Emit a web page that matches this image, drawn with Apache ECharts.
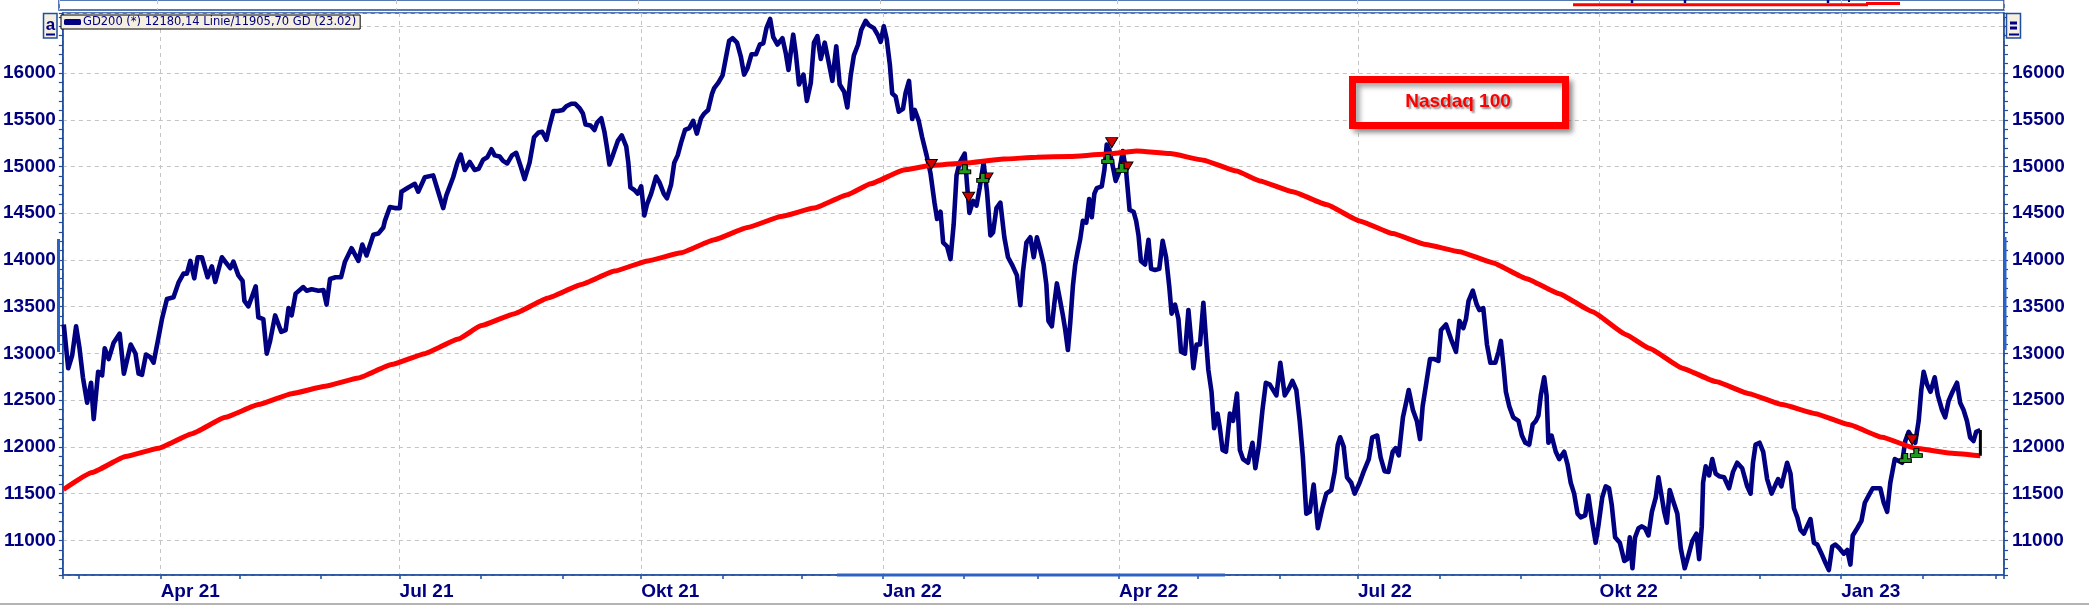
<!DOCTYPE html>
<html><head><meta charset="utf-8">
<script src="https://cdn.jsdelivr.net/npm/echarts@6/dist/echarts.min.js"></script>
<style>html,body{margin:0;padding:0;background:#fff;}#c{width:2089px;height:611px;}</style>
</head><body><div id="c"></div>
<script>
// Time positions are given in days since 1 April 2021.
const priceDays = [
-36.9,-35.2,-33.7,-32.2,-30.9,-29.6,-28.0,-26.5,-25.5,-23.8,-22.3,-21.3,-19.8,-17.9,-15.6,-14.0,-11.4,-9.6,-8.4,-7.1,
-5.6,-3.9,-2.7,-0.8,0.5,2.4,4.9,6.8,8.7,10.0,11.3,12.8,14.1,15.7,17.9,19.5,20.8,23.3,26.5,27.7,
29.6,31.2,31.9,33.4,34.7,36.2,37.2,39.1,40.4,41.7,43.6,45.9,47.6,48.7,49.9,51.4,54.3,55.6,57.5,60.1,
62.0,63.2,64.5,66.6,68.7,70.2,72.7,75.3,76.8,78.4,81.0,82.9,84.8,85.4,87.3,89.2,91.1,91.7,94.3,96.8,
98.1,100.6,103.8,105.7,107.6,108.8,
111.4,113.0,114.3,115.8,117.7,119.6,121.1,122.8,124.4,126.0,127.2,129.1,130.4,132.0,133.8,135.4,137.1,138.6,140.5,142.2,
143.9,145.3,146.9,148.1,149.6,151.3,153.2,154.5,156.4,157.9,159.5,160.8,161.8,163.7,165.2,166.2,167.8,169.0,170.0,170.9,
172.2,174.1,175.6,177.3,178.1,178.9,180.4,181.7,183.0,184.2,185.2,186.8,188.7,190.0,191.6,192.8,194.4,195.6,196.9,198.2,
199.7,201.3,202.8,204.2,205.8,207.0,208.5,210.0,210.8,212.4,214.0,215.3,216.5,217.8,219.5,221.0,222.2,223.5,225.0,226.7,
228.2,229.5,230.7,232.1,233.3,234.9,236.8,238.1,239.1,240.0,240.9,241.9,243.1,244.8,246.1,247.6,248.8,250.1,251.4,252.9,
254.3,255.8,257.3,258.6,260.3,261.5,
262.8,264.0,265.6,266.8,268.5,269.7,271.6,273.2,274.2,275.4,276.5,277.7,278.6,279.9,281.1,282.7,283.7,285.0,286.2,287.2,
288.7,290.0,291.7,293.2,294.7,295.7,297.0,298.0,299.5,300.8,302.0,303.1,304.3,306.2,307.1,308.0,309.4,310.7,311.9,313.4,
314.7,316.0,317.0,318.3,319.8,321.3,322.7,324.2,326.1,327.4,328.4,329.7,331.2,332.5,333.7,335.0,336.3,337.3,338.1,339.4,
340.3,341.3,342.3,343.6,344.5,345.5,346.4,347.4,348.3,349.2,350.2,351.2,352.5,353.6,354.6,355.6,356.5,358.4,359.4,360.3,
361.3,362.6,363.7,365.1,366.4,367.7,369.0,370.5,371.5,372.4,373.3,374.9,376.2,377.2,378.7,380.3,381.6,382.9,384.1,385.0,
386.3,387.6,388.6,390.1,391.4,392.4,393.3,394.5,395.8,397.1,398.1,399.0,400.2,401.2,402.5,403.4,404.4,405.7,
407.2,408.4,409.9,411.0,412.2,414.1,415.8,416.9,418.2,419.6,420.9,422.4,424.9,426.4,428.1,429.7,431.0,432.5,433.8,435.0,
436.3,437.6,439.1,440.7,442.4,443.9,445.8,447.1,448.3,449.2,450.5,451.8,453.4,454.7,456.6,458.1,460.1,461.4,463.3,464.6,
466.1,467.6,469.2,470.3,471.5,473.1,474.3,475.3,476.9,478.4,479.6,480.6,481.9,483.4,485.1,486.6,487.6,489.5,491.4,493.3,
494.6,496.1,497.1,498.1,499.7,501.2,502.2,503.7,505.1,506.4,508.3,509.5,510.4,511.4,512.3,513.6,515.1,517.1,518.4,519.7,
521.2,522.5,523.7,524.7,525.6,526.9,527.8,528.5,529.7,530.4,531.3,532.6,534.5,535.8,537.0,538.3,539.6,540.8,542.5,543.7,
545.0,546.5,547.5,549.0,550.3,551.6,552.6,553.9,
555.7,557.4,558.6,559.5,560.5,561.5,562.8,564.1,565.3,566.6,567.9,569.4,570.4,571.7,572.6,573.6,574.7,576.0,577.6,578.9,
580.4,581.8,583.3,584.9,585.9,586.9,587.4,588.4,589.7,590.9,592.2,593.5,595.4,597.3,598.8,600.4,602.3,604.2,605.5,606.4,
607.4,608.9,610.3,611.8,613.5,615.0,616.0,617.2,618.2,619.4,620.7,622.0,623.3,624.5,625.8,627.0,628.3,629.6,630.9,632.5,
634.0,635.3,636.6,637.8,639.3,641.0,642.3,643.5,644.4,646.1,647.7,649.0,650.5,652.0,654.9,656.2,657.5,658.7,660.4,661.9,
663.2,664.4,665.7,667.0,668.2,669.5,670.5,671.4,672.7,674.0,675.6,676.8,678.4,679.6,680.9,682.4,684.1,685.3,686.6,687.9,
689.1,690.4,691.4,693.0
];
const priceValues = [
13309,12842,12978,13290,13056,12745,12473,12687,12298,12804,12765,13056,12940,13115,13212,12784,13096,13000,12784,12772,
12988,12959,12901,13173,13368,13582,13601,13757,13854,13854,13990,13804,14029,14029,13815,13932,13765,14029,13912,13982,
13835,13776,13562,13504,13601,13718,13387,13368,12998,13134,13407,13232,13251,13485,13407,13640,13710,13671,13687,13671,
13679,13523,13796,13815,13815,13982,14126,13990,14165,14048,14270,14282,14348,14418,14566,14555,14555,14730,14776,14815,
14730,14885,14905,14730,14555,14691,
14885,15041,15126,14963,15049,14963,14975,15072,15099,15185,15119,15107,15060,15033,15119,15146,15002,14866,15041,15313,
15364,15372,15286,15430,15593,15593,15605,15644,15671,15671,15625,15566,15449,15438,15391,15469,15516,15372,15196,15021,
15119,15274,15333,15216,15041,14776,14749,14710,14788,14477,14593,14710,14893,14827,14710,14660,14807,15041,15119,15255,
15391,15411,15488,15352,15516,15566,15605,15780,15839,15897,15975,16169,16344,16372,16325,16169,15983,16052,16200,16200,
16305,16317,16480,16578,16383,16305,16372,16208,16033,16228,16410,16208,15877,15983,15702,15897,16325,16395,16150,16325,
16130,15916,16286,15877,15800,15632,
15975,16189,16305,16461,16558,16512,16480,16403,16333,16500,16364,16091,15780,15749,15586,15617,15788,15916,15508,15605,
15488,15313,15119,14924,14613,14438,14516,14185,14146,14010,14379,14905,15041,15138,14807,14504,14632,14582,14769,15041,
14730,14263,14294,14554,14613,14243,14029,13951,13835,13516,13874,14185,14243,14029,14243,14107,13951,13737,13348,13290,
13523,13749,13601,13407,13251,13037,13329,13718,13951,14088,14224,14418,14399,14652,14457,14710,14769,14788,14963,15235,
15177,15002,14846,14944,15165,14944,14535,14516,14418,14263,13990,13951,14216,13905,13893,13905,14204,14029,13718,13426,
13523,13368,13018,12998,13465,13154,12843,13095,13095,13543,13154,12823,12590,12200,12356,12200,11967,11948,
12356,12278,12570,11967,11870,11831,12045,11772,12006,12395,12687,12667,12551,12901,12551,12628,12706,12609,12278,11889,
11286,11306,11597,11130,11344,11500,11539,11733,12025,12103,12006,11675,11617,11500,11617,11733,11870,12103,12122,11889,
11741,11733,11948,11987,11909,12317,12473,12609,12395,12278,12084,12434,12667,12940,12940,12920,13251,13310,13154,13018,
13348,13270,13368,13562,13671,13523,13465,13485,13095,12901,12901,13018,13134,12862,12590,12434,12317,12278,12122,12045,
12025,12239,12278,12337,12551,12745,12551,12045,12122,12142,11948,11870,11948,11811,11617,11500,11286,11247,11267,11481,
11228,10975,11150,11461,11578,11558,11383,11033,
10975,10780,10800,11033,10702,11033,11130,11150,11130,11053,11306,11461,11675,11461,11306,11189,11539,11422,11286,10916,
10702,10838,10994,11072,10800,11150,11617,11792,11695,11870,11714,11687,11675,11558,11733,11831,11772,11578,11500,11831,
12025,12045,11948,11656,11500,11597,11656,11578,11695,11831,11714,11344,11247,11111,11072,11150,11228,10975,10955,10858,
10761,10683,10936,10955,10916,10858,10897,10741,11053,11130,11208,11403,11481,11558,11558,11403,11306,11617,11870,11850,
11831,12064,12161,12103,12045,12278,12609,12804,12667,12590,12745,12551,12395,12317,12492,12590,12687,12473,12395,12278,
12103,12064,12161,12180.14
];
// 200-day moving average (GD200)
const maDays = [
-37.0,-26.1,-13.4,-0.8,11.9,24.6,37.2,49.9,62.6,75.3,87.9,100.6,113.3,122.1,134.8,147.5,160.2,172.8,185.5,198.2,
210.8,223.5,236.2,248.8,261.5,270.4,283.0,293.2,308.4,321.0,333.7,346.4,359.1,371.7,384.4,397.1,409.7,418.6,431.2,443.9,
456.6,469.2,481.9,494.6,507.3,519.9,532.6,545.3,557.9,566.9,579.5,592.2,604.9,617.5,630.2,642.9,655.6,668.2,680.9,693.0
];
const maValues = [
11545,11726,11897,11986,12142,12317,12453,12570,12648,12737,12881,12998,13154,13298,13426,13593,13737,13881,13990,14076,
14216,14348,14465,14555,14698,14815,14963,15010,15041,15080,15099,15107,15130,15165,15138,15068,14951,14846,14730,14593,
14418,14282,14165,14088,13971,13803,13640,13446,13204,13056,12843,12699,12570,12453,12356,12239,12103,11986,11936,11905.70
];
// crossing signals
const sellDays = [293.5,307.7,314.7,362.2,368.0,667.0];
const sellValues = [15021,14671,14878,15255,14994,12076];
const buyDays = [306.2,313.1,360.7,366.0,664.4,668.6];
const buyValues = [14971,14878,15080,14983,11881,11936];
// last value marker (Linie vs GD)
const lastDay = 693.0;
const lastLine = 12180.14;
const lastGD = 11905.70;
const legendText = 'GD200 (*) 12180,14 Linie/11905,70 GD (23.02)';
const boxTitle = 'Nasdaq 100';
const monthNames = ['Jan','Feb','Mär','Apr','Mai','Jun','Jul','Aug','Sep','Okt','Nov','Dez'];

const BASE = new Date(2021, 3, 1).getTime();
const DAY = 86400000;
const ts = d => BASE + d * DAY;
const zip = (a, b) => a.map((d, i) => [ts(d), b[i]]);

const NAVY = '#000080';
const AXIS = '#1f4e9e';
const GRIDC = '#c4c4c4';
const FONT = '"Liberation Sans", Arial, sans-serif';
const xMin = ts(-37.25), xMax = ts(702.0);
const yMin = 10630, yMax = 16642;

const chart = echarts.init(document.getElementById('c'));
chart.setOption({
  animation: false,
  backgroundColor: '#fff',
  legend: {
    data: [legendText], left: 61, top: 15, padding: [1, 4, 1, 3], itemGap: 2,
    backgroundColor: '#f4efe1', borderColor: '#000', borderWidth: 1,
    icon: 'roundRect', itemWidth: 17, itemHeight: 6,
    textStyle: { color: NAVY, fontSize: 11.5, fontFamily: '"DejaVu Sans", sans-serif', padding: [0, 0, 0, -3] },
    selectedMode: false
  },
  grid: [
    { left: 59, right: 85, top: 13, bottom: 36, show: true, borderColor: AXIS, borderWidth: 1.5, backgroundColor: 'transparent' },
    { left: 59, right: 85, top: -4, height: 14, show: true, borderColor: AXIS, borderWidth: 1.5, backgroundColor: 'transparent' }
  ],
  xAxis: [
    { type: 'time', gridIndex: 0, min: xMin, max: xMax, minInterval: 100 * DAY, maxInterval: 100 * DAY,
      axisLine: { show: true, lineStyle: { color: AXIS, width: 1.5 } },
      axisTick: { show: false },
      axisLabel: { show: true, showMinLabel: true, showMaxLabel: true, hideOverlap: false, align: 'left', margin: 7,
        color: NAVY, fontSize: 19, fontWeight: 'bold', fontFamily: FONT,
        formatter: v => { const d = new Date(v); if (d.getDate() !== 1 || d.getHours() !== 0) return ''; return monthNames[d.getMonth()] + ' ' + String(d.getFullYear()).slice(2); } },
      splitLine: { show: true, lineStyle: { color: GRIDC, type: [4, 4], width: 1 } } },
    { type: 'time', gridIndex: 0, min: xMin, max: xMax, minInterval: 32 * DAY, maxInterval: 32 * DAY, position: 'bottom',
      axisLine: { show: false }, axisLabel: { show: false }, splitLine: { show: false },
      axisTick: { show: true, length: 4, lineStyle: { color: AXIS, width: 1.5 } } },
    { type: 'time', gridIndex: 1, min: xMin, max: xMax, minInterval: 100 * DAY, maxInterval: 100 * DAY,
      axisLine: { show: false }, axisTick: { show: false }, axisLabel: { show: false },
      splitLine: { show: true, lineStyle: { color: GRIDC, type: [4, 4], width: 1 } } }
  ],
  yAxis: [
    { type: 'value', gridIndex: 0, position: 'left', min: yMin, max: yMax, splitNumber: 12,
      axisLine: { show: true, lineStyle: { color: AXIS, width: 1.5 } }, axisTick: { show: false },
      axisLabel: { margin: 7, color: NAVY, fontSize: 19, fontWeight: 'bold', fontFamily: FONT, showMinLabel: true, showMaxLabel: true,
        formatter: v => (v % 500 === 0 && v <= 16000) ? String(v) : '' },
      splitLine: { show: true, lineStyle: { color: GRIDC, type: [4, 4], width: 1 } } },
    { type: 'value', gridIndex: 0, position: 'right', min: yMin, max: yMax, splitNumber: 12,
      axisLine: { show: true, lineStyle: { color: AXIS, width: 1.5 } }, axisTick: { show: false },
      axisLabel: { margin: 8, color: NAVY, fontSize: 19, fontWeight: 'bold', fontFamily: FONT, showMinLabel: true, showMaxLabel: true,
        formatter: v => (v % 500 === 0 && v <= 16000) ? String(v) : '' },
      splitLine: { show: false } },
    { type: 'value', gridIndex: 0, position: 'left', min: yMin, max: yMax, splitNumber: 60,
      axisLine: { show: false }, axisLabel: { show: false }, splitLine: { show: false },
      axisTick: { show: true, length: 4, lineStyle: { color: AXIS, width: 1.2 } } },
    { type: 'value', gridIndex: 0, position: 'right', min: yMin, max: yMax, splitNumber: 60,
      axisLine: { show: false }, axisLabel: { show: false }, splitLine: { show: false },
      axisTick: { show: true, length: 4, lineStyle: { color: AXIS, width: 1.2 } } },
    { type: 'value', gridIndex: 1, min: 0, max: 1, show: false }
  ],
  series: [
    { name: legendText, type: 'line', xAxisIndex: 0, yAxisIndex: 0, data: zip(priceDays, priceValues),
      showSymbol: false, lineStyle: { color: NAVY, width: 4.6, join: 'round' }, itemStyle: { color: NAVY }, z: 3 },
    { name: 'GD200', type: 'line', xAxisIndex: 0, yAxisIndex: 0, data: zip(maDays, maValues),
      showSymbol: false, smooth: 0.12, smoothMonotone: 'x', lineStyle: { color: '#ff0000', width: 5 }, itemStyle: { color: '#ff0000' }, z: 4 },
    { name: 'diff', type: 'line', xAxisIndex: 0, yAxisIndex: 0, data: [[ts(lastDay), lastLine], [ts(lastDay), lastGD]],
      showSymbol: false, lineStyle: { color: '#000', width: 3 }, z: 5 },
    { name: 'sell', type: 'scatter', xAxisIndex: 0, yAxisIndex: 0, data: zip(sellDays, sellValues),
      symbol: 'triangle', symbolRotate: 180, symbolSize: [12, 10],
      itemStyle: { color: '#d40000', borderColor: '#000', borderWidth: 1, opacity: 1 }, z: 6 },
    { name: 'buy', type: 'scatter', xAxisIndex: 0, yAxisIndex: 0, data: zip(buyDays, buyValues),
      symbol: 'path://M3,0 L7,0 L7,4 L10,4 L10,7 L0,7 L0,4 L3,4 Z', symbolSize: [12, 9],
      itemStyle: { color: '#1f9a1f', borderColor: '#000', borderWidth: 1, opacity: 1 }, z: 6 }
  ],
  graphic: [
    { type: 'line', z: 50, silent: true, shape: { x1: 0, y1: 604, x2: 2089, y2: 604 }, style: { stroke: '#b4b4b4', lineWidth: 2 } },
    { type: 'line', z: 50, silent: true, shape: { x1: 837, y1: 575, x2: 1225, y2: 575 }, style: { stroke: '#2c62c4', lineWidth: 3 } },
    { type: 'line', z: 50, silent: true, shape: { x1: 58.5, y1: 239, x2: 58.5, y2: 352 }, style: { stroke: '#2c62c4', lineWidth: 3 } },
    { type: 'line', z: 50, silent: true, shape: { x1: 2005, y1: 237, x2: 2005, y2: 350 }, style: { stroke: '#2c62c4', lineWidth: 3 } },
    { type: 'line', z: 50, silent: true, shape: { x1: 1573, y1: 4.8, x2: 1868, y2: 4.8 }, style: { stroke: '#ff0000', lineWidth: 3 } },
    { type: 'line', z: 50, silent: true, shape: { x1: 1866, y1: 3.6, x2: 1900, y2: 3.6 }, style: { stroke: '#ff0000', lineWidth: 3 } },
    { type: 'line', z: 50, silent: true, shape: { x1: 1632, y1: 0, x2: 1632, y2: 3 }, style: { stroke: NAVY, lineWidth: 2.5 } },
    { type: 'line', z: 50, silent: true, shape: { x1: 1685, y1: 0, x2: 1685, y2: 3 }, style: { stroke: NAVY, lineWidth: 2.5 } },
    { type: 'line', z: 50, silent: true, shape: { x1: 1828, y1: 0, x2: 1828, y2: 3 }, style: { stroke: NAVY, lineWidth: 2.5 } },
    { type: 'line', z: 50, silent: true, shape: { x1: 1849, y1: 0, x2: 1849, y2: 2 }, style: { stroke: NAVY, lineWidth: 2 } },
    // "a" button
    { type: 'rect', z: 50, silent: true, shape: { x: 43.5, y: 13.5, width: 13.5, height: 24.5 }, style: { fill: '#f4efe1', stroke: AXIS, lineWidth: 1.5 } },
    { type: 'text', z: 51, silent: true, x: 50.5, y: 25.5, style: { text: 'a', font: 'bold 17px "Liberation Sans", Arial', fill: NAVY, align: 'center', verticalAlign: 'middle' } },
    { type: 'line', z: 51, silent: true, shape: { x1: 46, y1: 34.5, x2: 55, y2: 34.5 }, style: { stroke: NAVY, lineWidth: 2 } },
    // right menu button
    { type: 'rect', z: 50, silent: true, shape: { x: 2006.5, y: 13.5, width: 14, height: 24.5 }, style: { fill: '#f4efe1', stroke: AXIS, lineWidth: 1.5 } },
    { type: 'rect', z: 51, silent: true, shape: { x: 2010, y: 21.5, width: 7, height: 3 }, style: { fill: NAVY } },
    { type: 'rect', z: 51, silent: true, shape: { x: 2010, y: 26.5, width: 7, height: 3 }, style: { fill: NAVY } },
    { type: 'rect', z: 51, silent: true, shape: { x: 2009, y: 33.5, width: 10, height: 2 }, style: { fill: NAVY } },
    // title box
    { type: 'rect', z: 60, silent: true, shape: { x: 1352.5, y: 79.5, width: 213, height: 46 },
      style: { fill: '#ffffff', stroke: '#ff0000', lineWidth: 7, shadowColor: 'rgba(0,0,0,0.35)', shadowBlur: 5, shadowOffsetX: 4, shadowOffsetY: 4 } },
    { type: 'text', z: 61, silent: true, x: 1458, y: 102, style: { text: boxTitle, font: 'bold 19px "Liberation Sans", Arial', fill: '#ff0000', align: 'center', verticalAlign: 'middle',
      textShadowColor: 'rgba(0,0,0,0.45)', textShadowBlur: 2, textShadowOffsetX: 2, textShadowOffsetY: 2 } }
  ]
});
</script></body></html>
